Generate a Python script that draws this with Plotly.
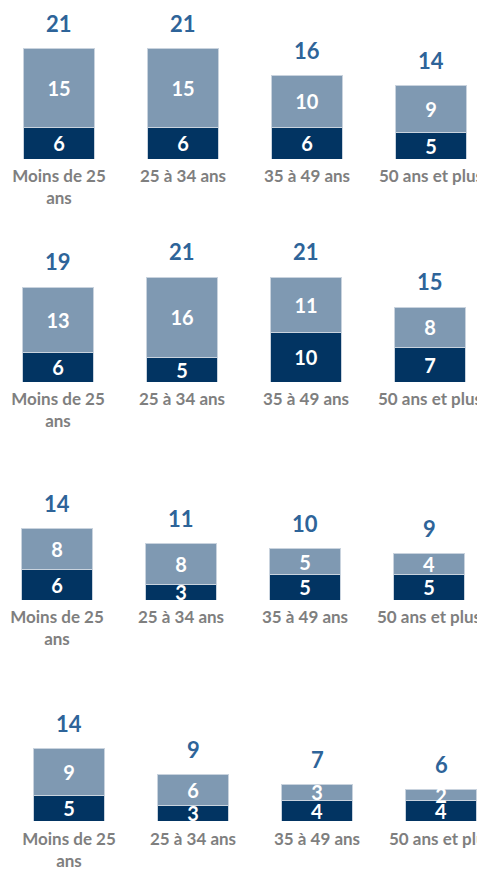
import plotly.graph_objects as go

categories = ['Moins de 25<br>ans', '25 à 34 ans', '35 à 49 ans', '50 ans et plus']

# one list per panel, top to bottom
dark_values = [
    [6, 6, 6, 5],
    [6, 5, 10, 7],
    [6, 3, 5, 5],
    [5, 3, 4, 4],
]
light_values = [
    [15, 15, 10, 9],
    [13, 16, 11, 8],
    [8, 8, 5, 4],
    [9, 6, 3, 2],
]
totals = [
    [21, 21, 16, 14],
    [19, 21, 21, 15],
    [14, 11, 10, 9],
    [14, 9, 7, 6],
]

DARK = '#023462'
LIGHT = '#7F99B2'
BLUE = '#2E6499'
GREY = '#7F7F7F'
FONT = 'Lato'

# page body has an 8px margin, so the figure is a bit smaller than the window
W = 477
H = 863
# pixel baseline, px per unit, center of first category, label standoff (figure pixels)
panels = [(151, 5.24, 51, 5), (374, 5.0, 50, 5), (592, 5.12, 49, 5), (813, 5.2, 61, 6)]
PANEL_H = 150
STEP = 124

fig = go.Figure()

for i in range(4):
    base, scale, cx, standoff = panels[i]
    n = i + 1
    xa = 'x' if n == 1 else 'x%d' % n
    ya = 'y' if n == 1 else 'y%d' % n

    fig.add_trace(go.Bar(
        x=categories, y=dark_values[i], xaxis=xa, yaxis=ya,
        marker=dict(color=DARK, line=dict(color='#C9D3DE', width=1)),
        width=0.57, text=dark_values[i], textposition='inside',
        insidetextanchor='middle', textangle=0,
        insidetextfont=dict(color='white', size=20, family=FONT, weight='bold'),
        cliponaxis=False, showlegend=False
    ))
    fig.add_trace(go.Bar(
        x=categories, y=light_values[i], xaxis=xa, yaxis=ya,
        marker=dict(color=LIGHT, line=dict(color='#C9D3DE', width=1)),
        width=0.57, text=light_values[i], textposition='inside',
        insidetextanchor='middle', textangle=0,
        insidetextfont=dict(color='white', size=20, family=FONT, weight='bold'),
        cliponaxis=False, showlegend=False
    ))

    # totals above each stack
    for c, t in zip(categories, totals[i]):
        fig.add_annotation(
            x=c, y=t, xref=xa, yref=ya, text=str(t), showarrow=False,
            yshift=25, font=dict(color=BLUE, size=22, family=FONT, weight='bold')
        )

    lo = -cx / STEP
    hi = (W - cx) / STEP
    fig.update_layout({
        ('xaxis' if n == 1 else 'xaxis%d' % n): dict(
            range=[lo, hi], domain=[0, 1], showline=False, showgrid=False,
            zeroline=False, ticks='', automargin=False, anchor=ya,
            ticklabelstandoff=standoff,
            tickfont=dict(color=GREY, size=17, family=FONT, weight='bold')
        ),
        ('yaxis' if n == 1 else 'yaxis%d' % n): dict(
            range=[0, PANEL_H / scale],
            domain=[1 - base / H, 1 - (base - PANEL_H) / H],
            visible=False, anchor=xa
        ),
    })

fig.update_layout(
    barmode='stack',
    width=W, height=H,
    margin=dict(l=0, r=0, t=0, b=0),
    paper_bgcolor='white', plot_bgcolor='white',
    uniformtext=dict(minsize=20, mode='show'),
    font=dict(family=FONT)
)

fig.write_html("out.html")
